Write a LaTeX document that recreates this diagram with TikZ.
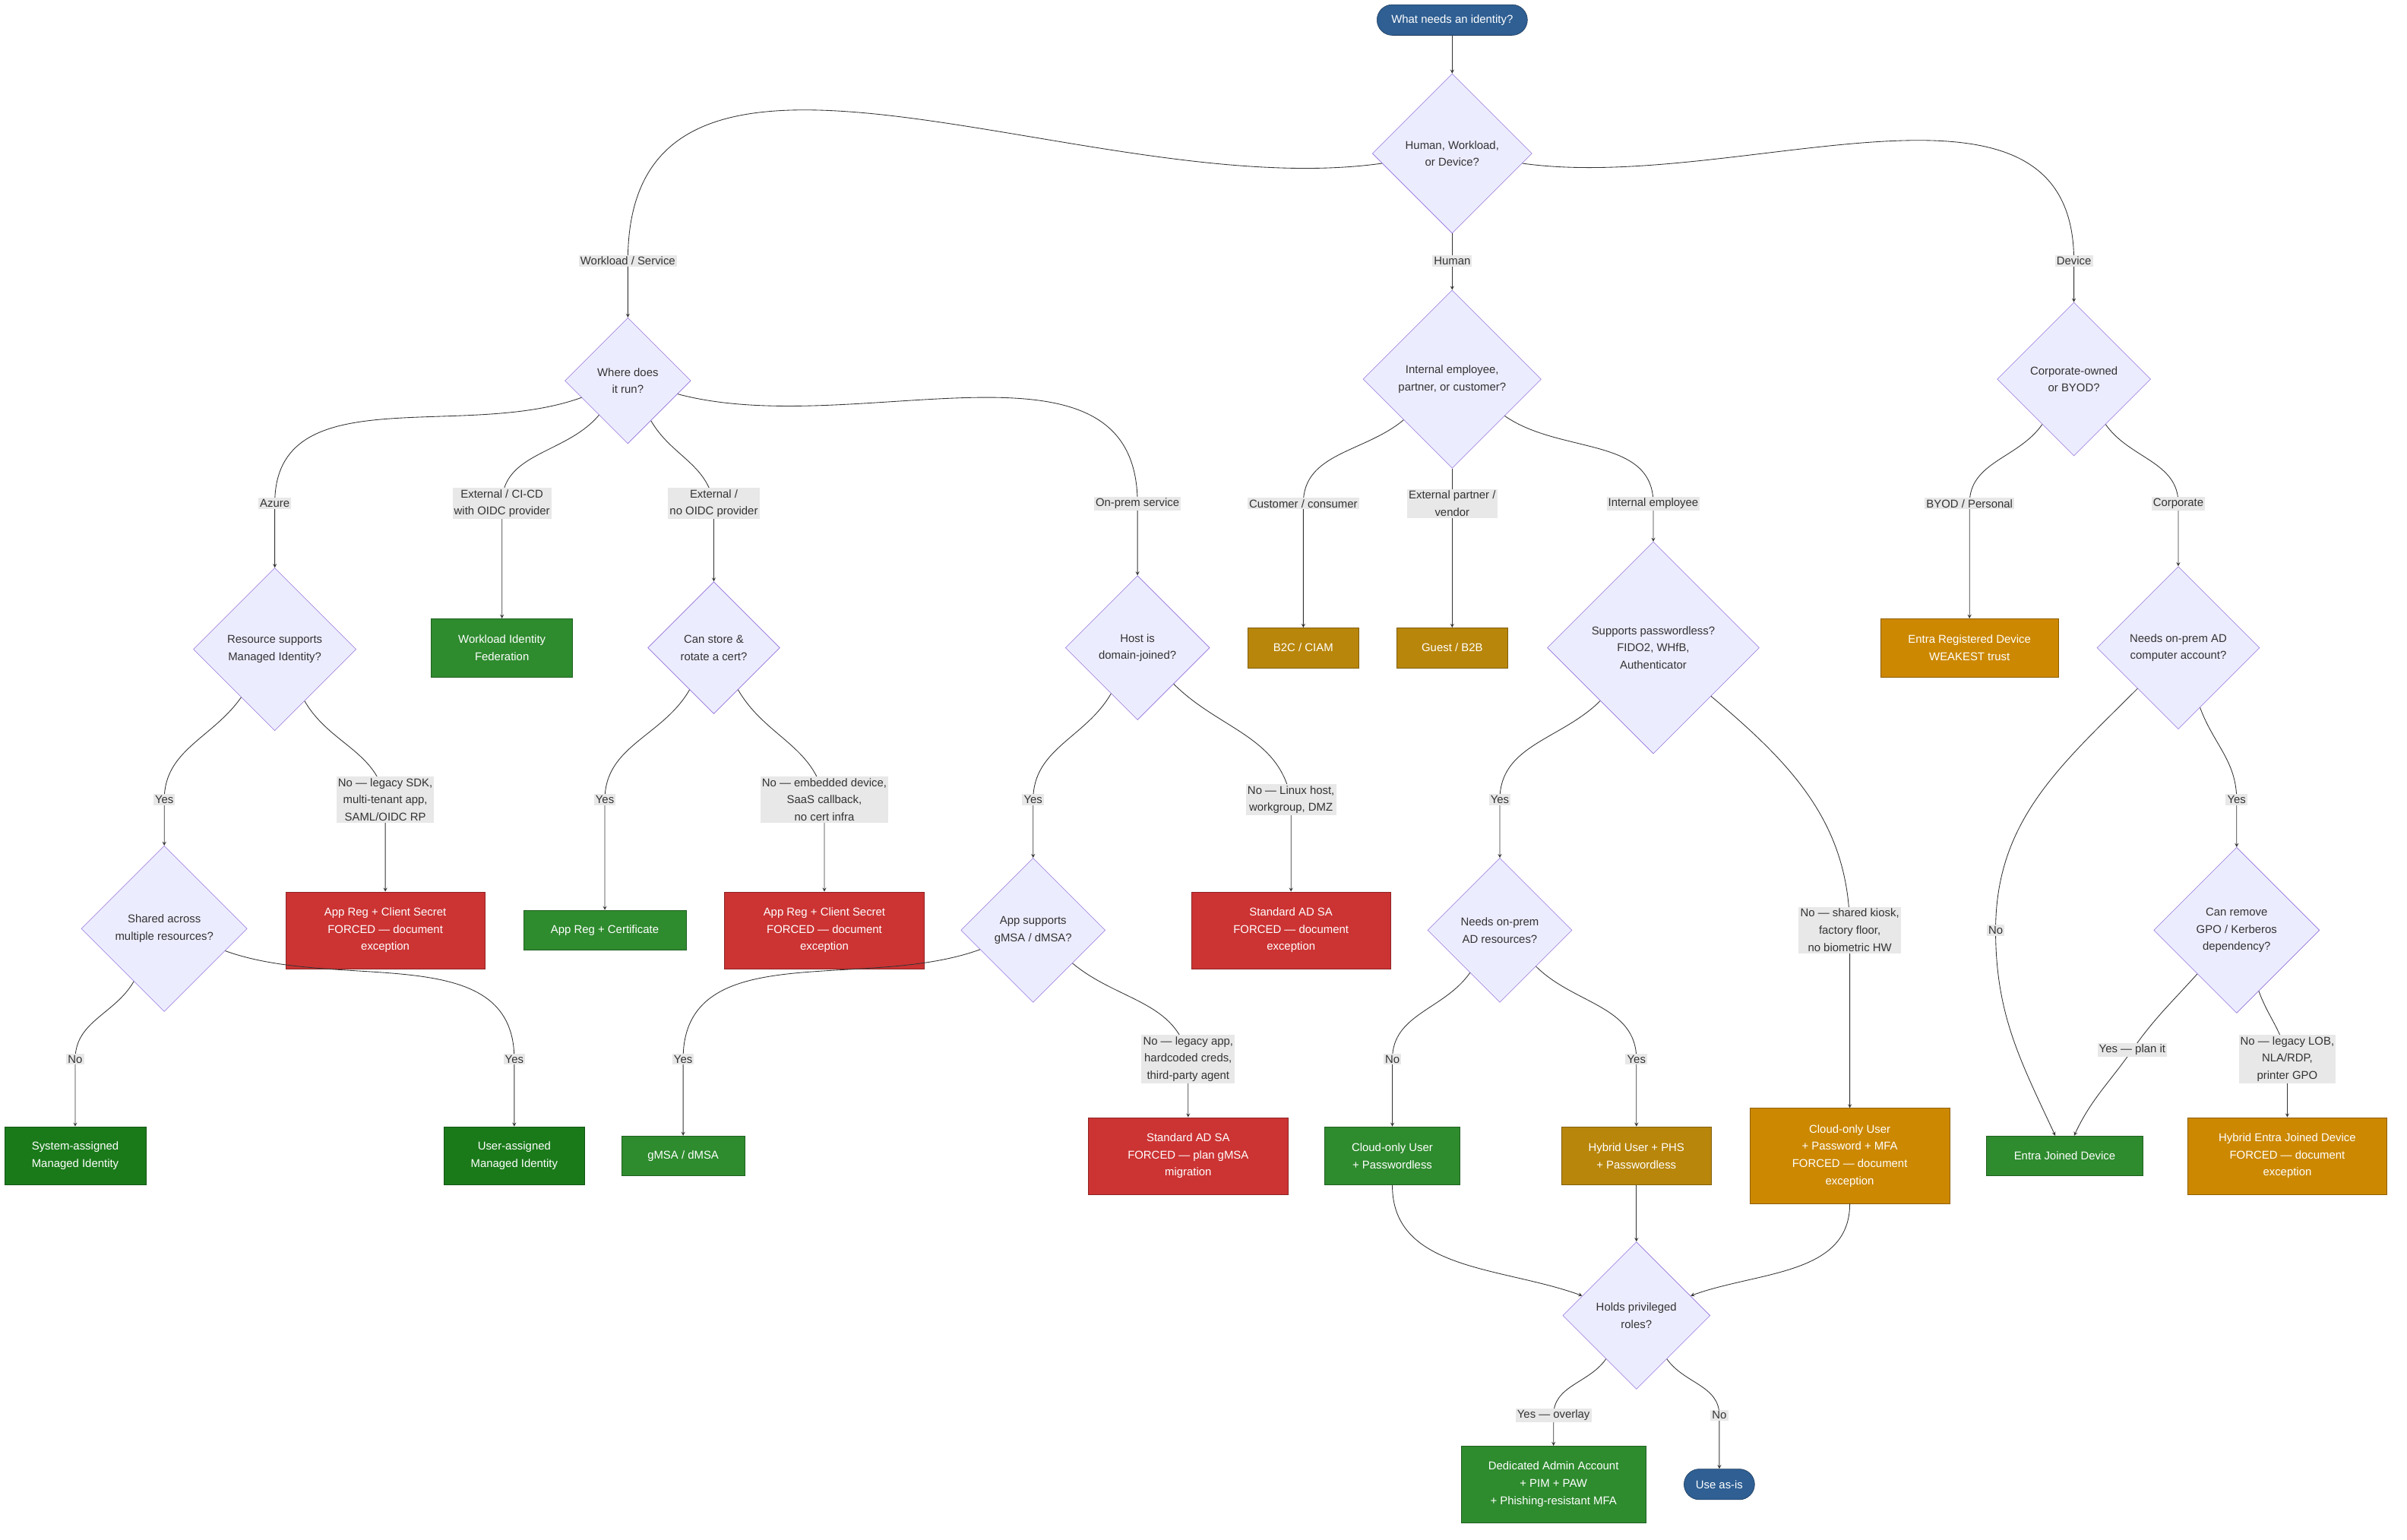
\documentclass[tikz,border=0pt]{standalone}
\usepackage{fontspec}
\setmainfont{Liberation Sans}
\usetikzlibrary{positioning,shapes.geometric}
\definecolor{qfill}{HTML}{ECECFF}
\definecolor{qdraw}{HTML}{9370DB}
\definecolor{okgreen}{HTML}{2E8B2E}
\definecolor{deepgreen}{HTML}{1A7A1A}
\definecolor{badred}{HTML}{CC3333}
\definecolor{warnorange}{HTML}{CC8800}
\definecolor{warngold}{HTML}{B8860B}
\definecolor{pillblue}{HTML}{2F5F93}
\begin{document}
\begin{tikzpicture}[x=0.05cm, y=-0.05cm,
        every node/.style={font=\fontsize{10.5}{16}\selectfont, align=center, text=black!80},
        question/.style={diamond, draw=qdraw, fill=qfill, inner sep=0pt, aspect=1},
        outcome/.style={rectangle, text=white, inner sep=2pt},
        good/.style={outcome, fill=okgreen, draw=okgreen!70!black},
        best/.style={outcome, fill=deepgreen, draw=deepgreen!70!black},
        bad/.style={outcome, fill=badred, draw=badred!70!black},
        warn/.style={outcome, fill=warnorange, draw=warnorange!70!black},
        meh/.style={outcome, fill=warngold, draw=warngold!70!black},
        pill/.style={rectangle, rounded corners=0.5cm, fill=pillblue, draw=pillblue!60!black, text=white, minimum height=1cm},
        choice/.style={fill=black!9, inner sep=1.5pt},
        flow/.style={-stealth, draw=black!80, semithick},
    ]
    \useasboundingbox (0,0) rectangle (1568,1003);

    % questions
    \node[pill, minimum width=4.9cm] (start) at (946,13) {What needs an identity?};
    \node[question, minimum size=5.2cm] (kind) at (946,100) {Human, Workload,\\or Device?};
    \node[question, minimum size=4.1cm] (where) at (409,248) {Where does\\it run?};
    \node[question, minimum size=5.8cm] (who) at (946,247) {Internal employee,\\partner, or customer?};
    \node[question, minimum size=5cm] (owner) at (1351,247) {Corporate-owned\\or BYOD?};
    \node[question, minimum size=5.3cm] (mi) at (179,423) {Resource supports\\Managed Identity?};
    \node[question, minimum size=4.3cm] (cert) at (465,422) {Can store \&\\rotate a cert?};
    \node[question, minimum size=4.7cm] (domain) at (741,422) {Host is\\domain-joined?};
    \node[question, minimum size=6.9cm] (pwless) at (1077,422) {Supports passwordless?\\FIDO2, WHfB,\\Authenticator};
    \node[question, minimum size=5.3cm] (adacct) at (1419,422) {Needs on-prem AD\\computer account?};
    \node[question, minimum size=5.4cm] (shared) at (107,605) {Shared across\\multiple resources?};
    \node[question, minimum size=4.7cm] (gmsa) at (673,606) {App supports\\gMSA / dMSA?};
    \node[question, minimum size=4.7cm] (adres) at (977,606) {Needs on-prem\\AD resources?};
    \node[question, minimum size=5.4cm] (gpo) at (1457,606) {Can remove\\GPO / Kerberos\\dependency?};
    \node[question, minimum size=4.8cm] (priv) at (1066,857) {Holds privileged\\roles?};

    % outcomes
    \node[good, minimum width=4.6cm, minimum height=1.9cm] (wif) at (327,422) {Workload Identity\\Federation};
    \node[meh, minimum width=3.6cm, minimum height=1.3cm] (ciam) at (849,422) {B2C / CIAM};
    \node[meh, minimum width=3.6cm, minimum height=1.3cm] (guest) at (946,422) {Guest / B2B};
    \node[warn, minimum width=5.8cm, minimum height=1.9cm] (erd) at (1283,422) {Entra Registered Device\\WEAKEST trust};
    \node[bad, minimum width=6.5cm, minimum height=2.5cm] (secret1) at (251,606) {App Reg + Client Secret\\FORCED — document\\exception};
    \node[good, minimum width=5.3cm, minimum height=1.3cm] (regcert) at (394,606) {App Reg + Certificate};
    \node[bad, minimum width=6.5cm, minimum height=2.5cm] (secret2) at (537,606) {App Reg + Client Secret\\FORCED — document\\exception};
    \node[bad, minimum width=6.5cm, minimum height=2.5cm] (stdsa1) at (841,606) {Standard AD SA\\FORCED — document\\exception};
    \node[best, minimum width=4.6cm, minimum height=1.9cm] (sysmi) at (49,753) {System-assigned\\Managed Identity};
    \node[best, minimum width=4.6cm, minimum height=1.9cm] (usermi) at (335,753) {User-assigned\\Managed Identity};
    \node[good, minimum width=4cm, minimum height=1.3cm] (gmsabox) at (445,753) {gMSA / dMSA};
    \node[bad, minimum width=6.5cm, minimum height=2.5cm] (stdsa2) at (774,753) {Standard AD SA\\FORCED — plan gMSA\\migration};
    \node[good, minimum width=4.4cm, minimum height=1.9cm] (cloudpl) at (907,753) {Cloud-only User\\+ Passwordless};
    \node[meh, minimum width=4.9cm, minimum height=1.9cm] (hybrid) at (1066,753) {Hybrid User + PHS\\+ Passwordless};
    \node[warn, minimum width=6.5cm, minimum height=3.1cm] (cloudmfa) at (1205,753) {Cloud-only User\\+ Password + MFA\\FORCED — document\\exception};
    \node[good, minimum width=5.1cm, minimum height=1.3cm] (ejd) at (1345,753) {Entra Joined Device};
    \node[warn, minimum width=6.5cm, minimum height=2.5cm] (hejd) at (1490,753) {Hybrid Entra Joined Device\\FORCED — document\\exception};
    \node[good, minimum width=6cm, minimum height=2.5cm] (admin) at (1012,967) {Dedicated Admin Account\\+ PIM + PAW\\+ Phishing-resistant MFA};
    \node[pill, minimum width=2.3cm] (asis) at (1120,967) {Use as-is};

    % label points
    \coordinate (lWork) at (409,170);   \coordinate (lHum) at (946,170);   \coordinate (lDev) at (1351,170);
    \coordinate (lAz) at (179,328);     \coordinate (lOidc) at (327,328);  \coordinate (lNoOidc) at (465,328);
    \coordinate (lOnp) at (741,328);    \coordinate (lCust) at (849,328);  \coordinate (lPart) at (946,328);
    \coordinate (lEmp) at (1077,328);   \coordinate (lByod) at (1283,328); \coordinate (lCorp) at (1419,328);
    \coordinate (lMiY) at (107,521);    \coordinate (lMiN) at (251,521);   \coordinate (lCertY) at (394,521);
    \coordinate (lCertN) at (537,521);  \coordinate (lDomY) at (673,521);  \coordinate (lDomN) at (841,521);
    \coordinate (lPwY) at (977,521);    \coordinate (lPwN) at (1205,606);  \coordinate (lAdN) at (1300,606);
    \coordinate (lAdY) at (1457,521);   \coordinate (lShN) at (49,690);    \coordinate (lShY) at (335,690);
    \coordinate (lGmY) at (445,690);    \coordinate (lGmN) at (774,690);   \coordinate (lResN) at (907,690);
    \coordinate (lResY) at (1066,690);  \coordinate (lGpoY) at (1389,684); \coordinate (lGpoN) at (1490,690);
    \coordinate (lPrY) at (1012,922);   \coordinate (lPrN) at (1120,922);

    \draw[flow] (start) -- (kind);
    \draw[flow] (kind) to[out=188,in=90] (lWork) -- (where);
    \draw[flow] (kind) -- (lHum) -- (who);
    \draw[flow] (kind) to[out=-8,in=90] (lDev) -- (owner);
    \draw[flow] (where) to[out=200,in=90] (lAz) -- (mi);
    \draw[flow] (where) to[out=230,in=90] (lOidc) -- (wif);
    \draw[flow] (where) to[out=-60,in=100] (lNoOidc) -- (cert);
    \draw[flow] (where) to[out=-15,in=90] (lOnp) -- (domain);
    \draw[flow] (who) to[out=220,in=90] (lCust) -- (ciam);
    \draw[flow] (who) -- (lPart) -- (guest);
    \draw[flow] (who) to[out=-35,in=90] (lEmp) -- (pwless);
    \draw[flow] (owner) to[out=235,in=90] (lByod) -- (erd);
    \draw[flow] (owner) to[out=-55,in=90] (lCorp) -- (adacct);
    \draw[flow] (mi) to[out=235,in=90] (lMiY) -- (shared);
    \draw[flow] (mi) to[out=-60,in=100] (lMiN) -- (secret1);
    \draw[flow] (cert) to[out=240,in=90] (lCertY) -- (regcert);
    \draw[flow] (cert) to[out=-60,in=100] (lCertN) -- (secret2);
    \draw[flow] (domain) to[out=240,in=90] (lDomY) -- (gmsa);
    \draw[flow] (domain) to[out=-45,in=100] (lDomN) -- (stdsa1);
    \draw[flow] (pwless) to[out=225,in=90] (lPwY) -- (adres);
    \draw[flow] (pwless) to[out=-40,in=90] (lPwN) -- (cloudmfa);
    \draw[flow] (adacct) to[out=225,in=90] (lAdN) to[out=-90,in=115] (ejd);
    \draw[flow] (adacct) to[out=-70,in=90] (lAdY) -- (gpo);
    \draw[flow] (shared) to[out=240,in=90] (lShN) -- (sysmi);
    \draw[flow] (shared) to[out=-20,in=90] (lShY) -- (usermi);
    \draw[flow] (gmsa) to[out=200,in=90] (lGmY) -- (gmsabox);
    \draw[flow] (gmsa) to[out=-40,in=100] (lGmN) -- (stdsa2);
    \draw[flow] (adres) to[out=235,in=90] (lResN) -- (cloudpl);
    \draw[flow] (adres) to[out=-45,in=90] (lResY) -- (hybrid);
    \draw[flow] (gpo) to[out=228,in=55] (lGpoY) to[out=235,in=65] (ejd);
    \draw[flow] (gpo) to[out=-70,in=100] (lGpoN) -- (hejd);
    \draw[flow] (cloudpl) to[out=-90,in=160] (priv);
    \draw[flow] (hybrid) -- (priv);
    \draw[flow] (cloudmfa) to[out=-90,in=20] (priv);
    \draw[flow] (priv) to[out=235,in=90] (lPrY) -- (admin);
    \draw[flow] (priv) to[out=-55,in=90] (lPrN) -- (asis);

    % edge labels
    \node[choice] (tWork) at (lWork) {Workload / Service};
    \node[choice] (tHum) at (lHum) {Human};
    \node[choice] (tDev) at (lDev) {Device};
    \node[choice] (tAz) at (lAz) {Azure};
    \node[choice] (tOidc) at (lOidc) {External / CI-CD\\with OIDC provider};
    \node[choice] (tNoOidc) at (lNoOidc) {External /\\no OIDC provider};
    \node[choice] (tOnp) at (lOnp) {On-prem service};
    \node[choice] (tCust) at (lCust) {Customer / consumer};
    \node[choice] (tPart) at (lPart) {External partner /\\vendor};
    \node[choice] (tEmp) at (lEmp) {Internal employee};
    \node[choice] (tByod) at (lByod) {BYOD / Personal};
    \node[choice] (tCorp) at (lCorp) {Corporate};
    \node[choice] (tMiY) at (lMiY) {Yes};
    \node[choice] (tMiN) at (lMiN) {No — legacy SDK,\\multi-tenant app,\\SAML/OIDC RP};
    \node[choice] (tCertY) at (lCertY) {Yes};
    \node[choice] (tCertN) at (lCertN) {No — embedded device,\\SaaS callback,\\no cert infra};
    \node[choice] (tDomY) at (lDomY) {Yes};
    \node[choice] (tDomN) at (lDomN) {No — Linux host,\\workgroup, DMZ};
    \node[choice] (tPwY) at (lPwY) {Yes};
    \node[choice] (tPwN) at (lPwN) {No — shared kiosk,\\factory floor,\\no biometric HW};
    \node[choice] (tAdN) at (lAdN) {No};
    \node[choice] (tAdY) at (lAdY) {Yes};
    \node[choice] (tShN) at (lShN) {No};
    \node[choice] (tShY) at (lShY) {Yes};
    \node[choice] (tGmY) at (lGmY) {Yes};
    \node[choice] (tGmN) at (lGmN) {No — legacy app,\\hardcoded creds,\\third-party agent};
    \node[choice] (tResN) at (lResN) {No};
    \node[choice] (tResY) at (lResY) {Yes};
    \node[choice] (tGpoY) at (lGpoY) {Yes — plan it};
    \node[choice] (tGpoN) at (lGpoN) {No — legacy LOB,\\NLA/RDP,\\printer GPO};
    \node[choice] (tPrY) at (lPrY) {Yes — overlay};
    \node[choice] (tPrN) at (lPrN) {No};
\end{tikzpicture}
\end{document}
